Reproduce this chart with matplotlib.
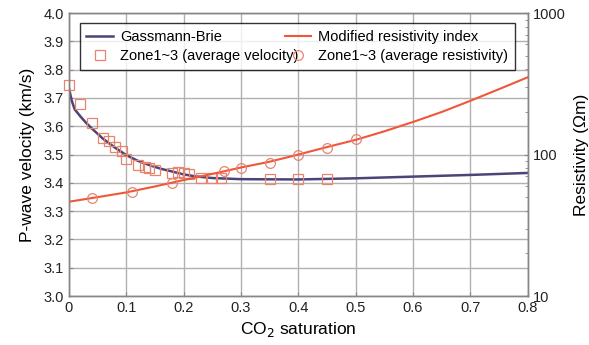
import matplotlib
matplotlib.use("Agg")
import matplotlib.pyplot as plt
from matplotlib.ticker import FixedLocator, LogLocator, NullFormatter

plt.rcParams['font.family'] = ['Liberation Sans', 'DejaVu Sans']

# Gassmann-Brie model curve (velocity, km/s)
gb_x = [0, 0.005, 0.01, 0.02, 0.03, 0.04, 0.06, 0.08, 0.10, 0.12, 0.14, 0.16,
        0.18, 0.20, 0.22, 0.25, 0.30, 0.40, 0.50, 0.60, 0.70, 0.80]
gb_v = [3.735, 3.69, 3.66, 3.635, 3.612, 3.592, 3.555, 3.525, 3.498, 3.478, 3.463,
        3.450, 3.440, 3.430, 3.423, 3.417, 3.413, 3.412, 3.416, 3.422, 3.428, 3.435]

# Modified resistivity index curve (Ohm m)
mri_x = [0, 0.05, 0.1, 0.15, 0.2, 0.25, 0.3, 0.35, 0.4, 0.45, 0.5, 0.55, 0.6,
         0.65, 0.7, 0.75, 0.8]
mri_r = [46.4, 50, 54, 59.5, 66, 73, 81, 89, 100, 113, 127, 146, 170, 200, 240,
         290, 352]

# Zone1~3 average velocity
vel_x = [0.0, 0.02, 0.04, 0.06, 0.07, 0.08, 0.092, 0.10, 0.12, 0.132, 0.14, 0.15,
         0.18, 0.19, 0.20, 0.21, 0.23, 0.25, 0.266, 0.35, 0.40, 0.45]
vel_v = [3.745, 3.678, 3.61, 3.557, 3.549, 3.528, 3.513, 3.483, 3.463, 3.457, 3.451,
         3.445, 3.434, 3.44, 3.434, 3.43, 3.416, 3.417, 3.416, 3.412, 3.412, 3.414]

# Zone1~3 average resistivity
res_x = [0.04, 0.11, 0.18, 0.27, 0.30, 0.35, 0.40, 0.45, 0.50]
res_r = [49, 54.5, 63, 76, 81, 87, 100, 112, 128]

x_ticks = [0, 0.1, 0.2, 0.3, 0.4, 0.5, 0.6, 0.7, 0.8]
x_labels = ['0', '0.1', '0.2', '0.3', '0.4', '0.5', '0.6', '0.7', '0.8']
y_ticks = [3.0, 3.1, 3.2, 3.3, 3.4, 3.5, 3.6, 3.7, 3.8, 3.9, 4.0]
r_ticks = [10, 100, 1000]

c_gb = '#4b4577'
c_mri = '#f0563a'
c_mark = '#e8846e'
c_grid = '#b5b0b0'

fig = plt.figure(figsize=(5.89, 3.45), dpi=100)
ax = fig.add_axes([0.117, 0.142, 0.779, 0.820])
ax2 = ax.twinx()

ax.set_xlim(0, 0.8)
ax.set_ylim(3.0, 4.0)
ax.set_xticks(x_ticks)
ax.set_xticklabels(x_labels)
ax.set_yticks(y_ticks)
ax.set_yticklabels([f'{t:.1f}' for t in y_ticks])
ax.grid(True, color=c_grid, linewidth=1.0)
ax.set_axisbelow(True)

ax2.set_yscale('log')
ax2.set_ylim(10, 1000)
ax2.yaxis.set_major_locator(FixedLocator(r_ticks))
ax2.set_yticklabels(['10', '100', '1000'])
ax2.yaxis.set_minor_locator(LogLocator(base=10, subs=range(2, 10)))
ax2.yaxis.set_minor_formatter(NullFormatter())

for a in (ax, ax2):
    for s in a.spines.values():
        s.set_color('#8a8585')
        s.set_linewidth(1.0)
    a.tick_params(direction='in', colors='#8a8585', labelcolor='#222222',
                  labelsize=10.5, length=3)
ax2.tick_params(which='minor', direction='in', colors='#8a8585', length=2)

h_gb, = ax.plot(gb_x, gb_v, color=c_gb, linewidth=1.8, label='Gassmann-Brie')
h_vel, = ax.plot(vel_x, vel_v, linestyle='none', marker='s', markersize=6.5,
                 markerfacecolor='none', markeredgecolor=c_mark,
                 markeredgewidth=0.9, clip_on=False,
                 label='Zone1~3 (average velocity)')
h_mri, = ax2.plot(mri_x, mri_r, color=c_mri, linewidth=1.5,
                  label='Modified resistivity index')
h_res, = ax2.plot(res_x, res_r, linestyle='none', marker='o', markersize=7,
                  markerfacecolor='none', markeredgecolor=c_mark,
                  markeredgewidth=0.9, label='Zone1~3 (average resistivity)')

ax.set_xlabel('CO$_2$ saturation', fontsize=12.5, labelpad=4)
ax.set_ylabel('P-wave velocity (km/s)', fontsize=12.5, labelpad=6)
ax2.set_ylabel('Resistivity (Ωm)', fontsize=12.5, labelpad=6)

leg = ax2.legend([h_gb, h_vel, h_mri, h_res],
                 [h.get_label() for h in (h_gb, h_vel, h_mri, h_res)],
                 ncol=2, loc='lower left', mode='expand',
                 bbox_to_anchor=(0.024, 0.80, 0.948, 0.168),
                 fontsize=10.5, frameon=True, fancybox=False,
                 handlelength=1.8, handletextpad=0.5, borderpad=0.45,
                 labelspacing=0.35, columnspacing=1.0, borderaxespad=0)
leg.get_frame().set_edgecolor('black')
leg.get_frame().set_linewidth(1.0)

fig.savefig('out.png', dpi=100)
